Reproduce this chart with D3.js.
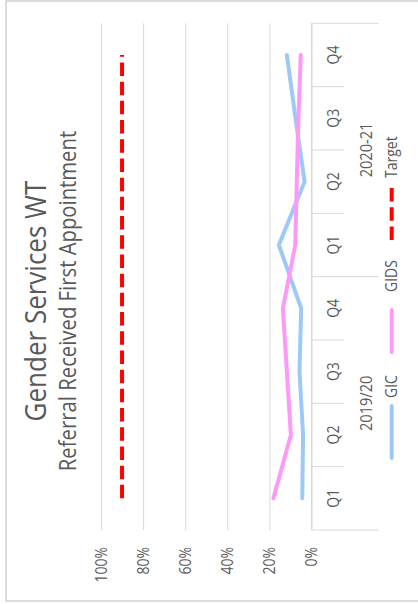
<!DOCTYPE html>
<html>
<head>
<meta charset="utf-8">
<script src="https://cdn.jsdelivr.net/npm/d3@7"></script>
<style>
  html, body { margin: 0; padding: 0; background: #fff; }
  svg { display: block; }
  text { font-family: "Open Sans", "DejaVu Sans", sans-serif; fill: #595959; }
</style>
</head>
<body>
<svg id="chart" width="418" height="604"></svg>
<script>
// Quarterly share of referrals receiving a first appointment
const quarters = ["Q1", "Q2", "Q3", "Q4", "Q1", "Q2", "Q3", "Q4"];
const years = ["2019/20", "2020-21"];
const gic = [4.4, 4.0, 5.7, 4.9, 15.5, 3.3, 7.6, 11.7];
const gids = [18.1, 9.8, 11.7, 13.6, 7.7, 7.0, 6.2, 5.1];
const target = [90, 90, 90, 90, 90, 90, 90, 90];
const valueTicks = [0, 20, 40, 60, 80, 100];

const svg = d3.select("#chart");
const grid = "#d9d9d9";
const SX = 1.12; // horizontal stretch of the glyphs
const DASH = "13.5,5.7";

// plot area: the chart is laid out turned a quarter turn
const plotTop = 23.3, plotBottom = 530;
const x = d3.scaleLinear().domain([0, 100]).range([311.5, 101]);
const y = d3.scaleBand().domain(d3.range(quarters.length)).range([plotBottom, plotTop]);
const yc = i => y(i) + y.bandwidth() / 2;

// text turned to read upward
function vtext(g, tx, ty, str, size, anchor) {
  return g.append("text")
    .attr("transform", `translate(${tx},${ty}) scale(${SX},1) rotate(-90)`)
    .attr("text-anchor", anchor)
    .style("font-size", size + "px")
    .text(str);
}

// outer frame
svg.append("rect")
  .attr("x", 6).attr("y", 1).attr("width", 430).attr("height", 600)
  .attr("fill", "none").attr("stroke", "#d0d0d0").attr("stroke-width", 1.5);

// value gridlines and labels
const vAxis = d3.axisBottom(x).tickValues(valueTicks)
  .tickSize(-(plotBottom - plotTop)).tickFormat(d => d + "%");
const va = svg.append("g").attr("transform", `translate(0,${plotBottom})`).call(vAxis);
va.select(".domain").remove();
va.selectAll(".tick line").attr("stroke", grid).attr("stroke-width", 1);
va.selectAll(".tick text").remove();
valueTicks.forEach(v => vtext(svg, x(v) + 5.8, 547, v + "%", 14, "end"));

// category axis line
svg.append("line")
  .attr("x1", x(0)).attr("x2", x(0)).attr("y1", plotTop).attr("y2", plotBottom)
  .attr("stroke", grid).attr("stroke-width", 1);

// category boundary ticks: longer at year boundaries
for (let i = 0; i <= quarters.length; i++) {
  const yy = i < quarters.length ? y(i) + y.bandwidth() : y(i - 1);
  const edge = (i % 4 === 0);
  svg.append("line")
    .attr("x1", x(0)).attr("x2", edge ? 378 : 344)
    .attr("y1", yy).attr("y2", yy)
    .attr("stroke", grid).attr("stroke-width", 1);
}

// quarter labels
quarters.forEach((q, i) => vtext(svg, 338.5, yc(i), q, 14, "middle"));

// year labels, centred on their four quarters
years.forEach((yr, k) => {
  const mid = (yc(k * 4) + yc(k * 4 + 3)) / 2;
  vtext(svg, 371.5, mid, yr, 14.6, "middle");
});

// series
const line = d3.line().x(d => x(d[1])).y(d => yc(d[0]));
const toPts = arr => arr.map((v, i) => [i, v]);

svg.append("path").datum(toPts(target))
  .attr("d", line).attr("fill", "none")
  .attr("stroke", "#ff0000").attr("stroke-width", 4)
  .attr("stroke-dasharray", DASH);

svg.append("path").datum(toPts(gic))
  .attr("d", line).attr("fill", "none")
  .attr("stroke", "#9dc9f7").attr("stroke-width", 4)
  .attr("stroke-linejoin", "round").attr("stroke-linecap", "round");

svg.append("path").datum(toPts(gids))
  .attr("d", line).attr("fill", "none")
  .attr("stroke", "#ff99f7").attr("stroke-width", 4)
  .attr("stroke-linejoin", "round").attr("stroke-linecap", "round");

// legend
const legend = [
  { name: "GIC", color: "#9dc9f7", dash: false, y0: 460, y1: 404, ty: 398 },
  { name: "GIDS", color: "#ff99f7", dash: false, y0: 354, y1: 308, ty: 292 },
  { name: "Target", color: "#ff0000", dash: true, y0: 240, y1: 188, ty: 178 }
];
legend.forEach(l => {
  const ln = svg.append("line")
    .attr("x1", 391.7).attr("x2", 391.7)
    .attr("stroke", l.color).attr("stroke-width", 4);
  if (l.dash) {
    ln.attr("y1", l.y0).attr("y2", l.y1).attr("stroke-dasharray", DASH);
  } else {
    ln.attr("y1", l.y0 - 2).attr("y2", l.y1 + 2).attr("stroke-linecap", "round");
  }
  vtext(svg, 396.5, l.ty, l.name, 14, "start");
});

// titles
vtext(svg, 46, 301, "Gender Services WT", 26, "middle");
vtext(svg, 76, 301, "Referral Received First Appointment", 20.3, "middle");
</script>
</body>
</html>
